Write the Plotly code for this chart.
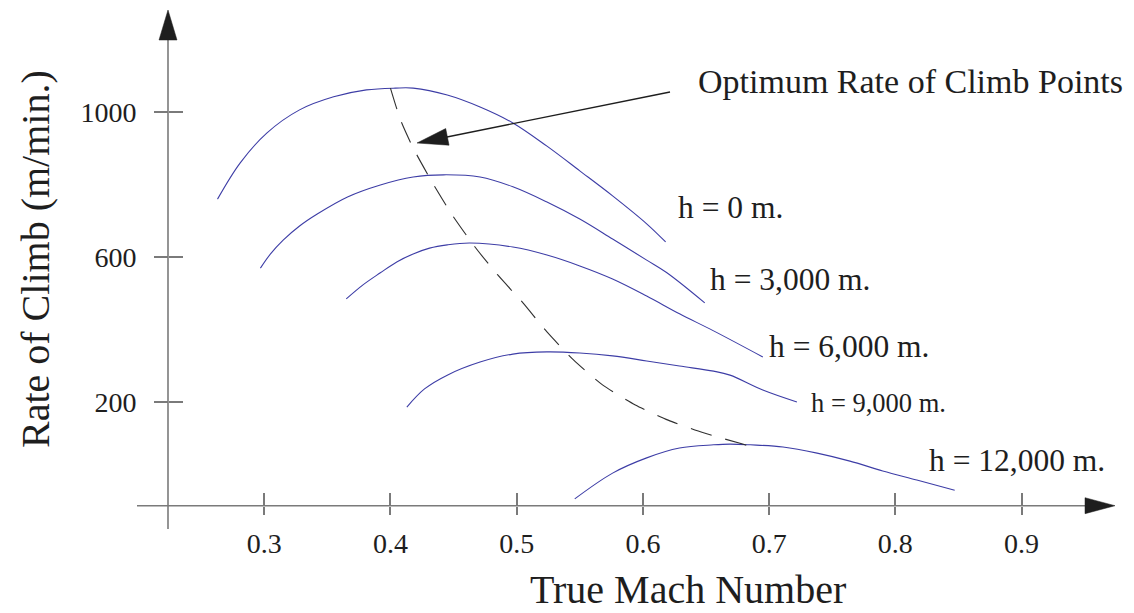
import math
import plotly.graph_objects as go

# ---------------- data ----------------
mach_h0 = [0.263, 0.281, 0.302, 0.328, 0.355, 0.381, 0.404, 0.418, 0.445, 0.471, 0.497, 0.524, 0.550, 0.576, 0.603, 0.618]
roc_h0 = [760, 860, 942, 1006, 1042, 1061, 1066, 1066, 1047, 1014, 970, 906, 838, 769, 692, 642]

mach_h3000 = [0.297, 0.305, 0.315, 0.328, 0.342, 0.366, 0.392, 0.418, 0.442, 0.471, 0.497, 0.524, 0.550, 0.576, 0.603, 0.619, 0.649]
roc_h3000 = [570, 609, 647, 686, 719, 766, 799, 821, 827, 821, 794, 752, 705, 650, 592, 557, 474]

mach_h6000 = [0.365, 0.378, 0.392, 0.405, 0.418, 0.431, 0.445, 0.463, 0.497, 0.524, 0.550, 0.576, 0.603, 0.629, 0.656, 0.695]
roc_h6000 = [485, 523, 557, 587, 609, 625, 634, 639, 628, 606, 576, 540, 493, 444, 397, 325]

mach_h9000 = [0.413, 0.427, 0.445, 0.471, 0.497, 0.524, 0.550, 0.576, 0.603, 0.629, 0.656, 0.669, 0.695, 0.722]
roc_h9000 = [187, 237, 275, 311, 333, 339, 336, 328, 314, 300, 286, 275, 234, 201]

mach_h12000 = [0.546, 0.576, 0.603, 0.629, 0.656, 0.669, 0.685, 0.711, 0.738, 0.764, 0.790, 0.817, 0.847]
roc_h12000 = [-66, 5, 47, 74, 83, 85, 83, 77, 60, 38, 11, -14, -42]

optimum_mach = [0.400, 0.408, 0.418, 0.433, 0.449, 0.467, 0.485, 0.505, 0.524, 0.545, 0.568, 0.594, 0.620, 0.648, 0.679, 0.686]
optimum_roc = [1066, 978, 901, 807, 716, 628, 551, 474, 394, 317, 248, 193, 151, 116, 85, 77]

curve_labels = ["h = 0 m.", "h = 3,000 m.", "h = 6,000 m.", "h = 9,000 m.", "h = 12,000 m."]

x_tickvals = [0.3, 0.4, 0.5, 0.6, 0.7, 0.8, 0.9]
x_ticktext = ["0.3", "0.4", "0.5", "0.6", "0.7", "0.8", "0.9"]
y_tickvals = [200, 600, 1000]
y_ticktext = ["200", "600", "1000"]

# ---------------- layout geometry ----------------
W, H = 1134, 613
X_RANGE = [0.09069, 0.98905]
Y_RANGE = [-380.5, 1308.8]
FONT = "Liberation Serif, Times New Roman, serif"
TXT = "#1e1e1e"
CURVE = "#3d3da6"
AXIS = "#7a7a7a"


def px2x(px):
    return X_RANGE[0] + px / W * (X_RANGE[1] - X_RANGE[0])


def py2y(py):
    return Y_RANGE[1] - py / H * (Y_RANGE[1] - Y_RANGE[0])


X_AXIS_Y = py2y(505.7)     # where the horizontal axis is drawn
Y_AXIS_X = px2x(168)       # where the vertical axis is drawn
X_AXIS_POS = (613 - 505.7) / H
Y_AXIS_POS = 168 / W

fig = go.Figure()

series = [(mach_h0, roc_h0), (mach_h3000, roc_h3000), (mach_h6000, roc_h6000),
          (mach_h9000, roc_h9000), (mach_h12000, roc_h12000)]
for (mx, ry), name in zip(series, curve_labels):
    fig.add_trace(go.Scatter(x=mx, y=ry, mode="lines", name=name,
                             line=dict(color=CURVE, width=1.1, shape="spline", smoothing=1.0),
                             hoverinfo="skip", showlegend=False))

fig.add_trace(go.Scatter(x=optimum_mach, y=optimum_roc, mode="lines",
                         line=dict(color="#303030", width=1.1, dash="22px,14px", shape="spline", smoothing=0.6),
                         hoverinfo="skip", showlegend=False))

# helper traces so that the overlay axes (for ticks crossing the axis line) exist
fig.add_trace(go.Scatter(x=[None], y=[None], xaxis="x2", yaxis="y", showlegend=False, hoverinfo="skip"))
fig.add_trace(go.Scatter(x=[None], y=[None], xaxis="x", yaxis="y2", showlegend=False, hoverinfo="skip"))

tickfont = dict(family=FONT, size=28, color=TXT)
common = dict(showgrid=False, zeroline=False, showline=False, fixedrange=True, automargin=False)

fig.update_layout(
    width=W, height=H, template="none",
    margin=dict(l=0, r=0, t=0, b=0),
    paper_bgcolor="white", plot_bgcolor="white",
    showlegend=False,
    xaxis=dict(range=X_RANGE, domain=[0, 1], anchor="free", position=X_AXIS_POS,
               tickmode="array", tickvals=x_tickvals, ticktext=x_ticktext,
               ticks="outside", ticklen=8, tickwidth=1.5, tickcolor=AXIS,
               tickfont=tickfont, ticklabelstandoff=5, **common),
    xaxis2=dict(range=X_RANGE, domain=[0, 1], anchor="free", position=X_AXIS_POS, overlaying="x",
                tickmode="array", tickvals=x_tickvals, ticks="inside", ticklen=13, tickwidth=1.5,
                tickcolor=AXIS, showticklabels=False, **common),
    yaxis=dict(range=Y_RANGE, domain=[0, 1], anchor="free", position=Y_AXIS_POS,
               tickmode="array", tickvals=y_tickvals, ticktext=y_ticktext,
               ticks="outside", ticklen=14, tickwidth=1.5, tickcolor=AXIS,
               tickfont=tickfont, ticklabelstandoff=12, **common),
    yaxis2=dict(range=Y_RANGE, domain=[0, 1], anchor="free", position=Y_AXIS_POS, overlaying="y",
                tickmode="array", tickvals=y_tickvals, ticks="inside", ticklen=14, tickwidth=1.5,
                tickcolor=AXIS, showticklabels=False, **common),
)

# axis lines
fig.add_shape(type="line", xref="x", yref="y", x0=px2x(137), x1=px2x(1095), y0=X_AXIS_Y, y1=X_AXIS_Y,
              line=dict(color=AXIS, width=1.6))
fig.add_shape(type="line", xref="x", yref="y", x0=Y_AXIS_X, x1=Y_AXIS_X, y0=py2y(529), y1=py2y(30),
              line=dict(color=AXIS, width=1.6))


def arrow_head(x_tip, y_tip, ux, uy, length, half_w, color="#1e1e1e"):
    """Triangle (pixel sized) with tip at data point, pointing in unit direction (ux, uy) (y up)."""
    bx, by = -ux * length, -uy * length
    nx, ny = -uy, ux
    p1 = (bx + nx * half_w, by + ny * half_w)
    p2 = (bx - nx * half_w, by - ny * half_w)
    path = f"M0,0 L{p1[0]:.2f},{p1[1]:.2f} L{p2[0]:.2f},{p2[1]:.2f} Z"
    fig.add_shape(type="path", xref="x", yref="y", xsizemode="pixel", ysizemode="pixel",
                  xanchor=x_tip, yanchor=y_tip, path=path,
                  fillcolor=color, line=dict(color=color, width=0.5))


# axis arrows
arrow_head(px2x(1115), X_AXIS_Y, 1, 0, 30, 8)
arrow_head(Y_AXIS_X, py2y(10), 0, 1, 30, 9)

# callout arrow
tail = (670, 92)
tip = (417, 143)
fig.add_shape(type="line", xref="x", yref="y", x0=px2x(tail[0]), y0=py2y(tail[1]),
              x1=px2x(tip[0] + 25), y1=py2y(tip[1] - 5), line=dict(color="#1e1e1e", width=1.3))
dx, dy = tip[0] - tail[0], -(tip[1] - tail[1])
n = math.hypot(dx, dy)
arrow_head(px2x(tip[0]), py2y(tip[1]), dx / n, dy / n, 31, 8.5)


def label(text, left_px, baseline_px, size):
    fig.add_annotation(x=px2x(left_px), y=py2y(baseline_px - 0.34 * size), xref="x", yref="y",
                       text=text, showarrow=False, xanchor="left", yanchor="middle",
                       font=dict(family=FONT, size=size, color=TXT))


label("Optimum Rate of Climb Points", 696, 93, 34)
label(curve_labels[0], 676, 218, 31.5)
label(curve_labels[1], 708, 290, 31.5)
label(curve_labels[2], 767, 357, 31.5)
label(curve_labels[3], 809, 412, 26.5)
label(curve_labels[4], 927, 471, 31.5)

# axis titles
fig.add_annotation(x=687.5 / W, y=0, xref="paper", yref="paper", text="True Mach Number",
                   showarrow=False, xanchor="center", yanchor="bottom", borderpad=0,
                   font=dict(family=FONT, size=40, color=TXT))
fig.add_annotation(x=35.5 / W, y=1 - 259.5 / H, xref="paper", yref="paper", text="Rate of Climb (m/min.)",
                   showarrow=False, xanchor="center", yanchor="middle", textangle=-90,
                   font=dict(family=FONT, size=40, color=TXT))

fig.write_html("out.html")
